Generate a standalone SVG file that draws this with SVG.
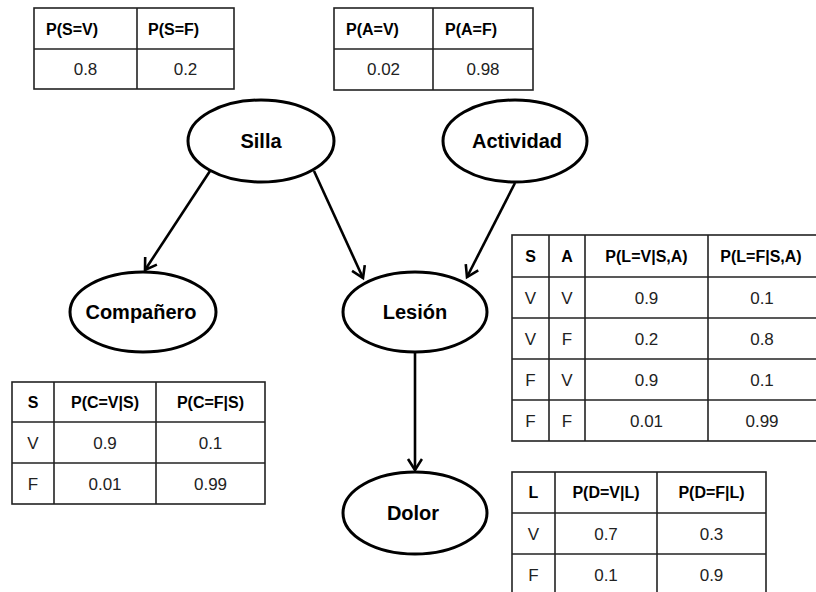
<svg xmlns="http://www.w3.org/2000/svg" width="816" height="592" viewBox="0 0 816 592">
  <style>
    .node ellipse { fill: #fff; stroke: #000; stroke-width: 3; }
    .node text { font-family: "Liberation Sans", Arial, sans-serif; font-weight: bold; font-size: 20px; text-anchor: middle; fill: #000; }
    .cpt rect { fill: #fff; stroke: #222; stroke-width: 1.6; }
    .cpt line { stroke: #222; stroke-width: 1.6; }
    .cpt text { font-family: "Liberation Sans", Arial, sans-serif; font-size: 17px; fill: #222; text-anchor: middle; }
    .cpt text.h { font-weight: bold; font-size: 16px; fill: #000; }
    .cpt text.l { text-anchor: start; }
    .edges line { stroke: #000; stroke-width: 2.6; fill: none; marker-end: url(#arrow); }
  </style>
  <defs>
    <marker id="arrow" markerUnits="userSpaceOnUse" markerWidth="20" markerHeight="20" refX="13" refY="8" orient="auto">
      <path d="M2,1 L13,8 L2,15" fill="none" stroke="#000" stroke-width="2.6" stroke-linejoin="miter"/>
    </marker>
  </defs>
  <rect width="816" height="592" fill="#fff"/>

  <!-- P(S) -->
  <g id="cpt-silla" class="cpt">
    <rect x="34" y="8" width="200" height="81"/>
    <line x1="34" y1="49" x2="234" y2="49"/>
    <line x1="137" y1="8" x2="137" y2="89"/>
    <text class="h l" x="46" y="35">P(S=V)</text>
    <text class="h l" x="148" y="35">P(S=F)</text>
    <text x="85.5" y="75">0.8</text>
    <text x="185.5" y="75">0.2</text>
  </g>

  <!-- P(A) -->
  <g id="cpt-actividad" class="cpt">
    <rect x="334" y="8" width="199" height="82"/>
    <line x1="334" y1="49" x2="533" y2="49"/>
    <line x1="433" y1="8" x2="433" y2="90"/>
    <text class="h l" x="346" y="35">P(A=V)</text>
    <text class="h l" x="445" y="35">P(A=F)</text>
    <text x="383.5" y="75">0.02</text>
    <text x="483" y="75">0.98</text>
  </g>

  <!-- P(L | S, A) -->
  <g id="cpt-lesion" class="cpt">
    <rect x="512" y="235" width="310" height="206"/>
    <line x1="512" y1="277" x2="822" y2="277"/>
    <line x1="512" y1="318" x2="822" y2="318"/>
    <line x1="512" y1="359" x2="822" y2="359"/>
    <line x1="512" y1="400" x2="822" y2="400"/>
    <line x1="549" y1="235" x2="549" y2="441"/>
    <line x1="585" y1="235" x2="585" y2="441"/>
    <line x1="708" y1="235" x2="708" y2="441"/>
    <text class="h" x="530.5" y="262">S</text>
    <text class="h" x="567" y="262">A</text>
    <text class="h" x="646.5" y="262">P(L=V|S,A)</text>
    <text class="h" x="761" y="262">P(L=F|S,A)</text>
    <text x="530.5" y="304">V</text><text x="567" y="304">V</text><text x="646.5" y="304">0.9</text><text x="762" y="304">0.1</text>
    <text x="530.5" y="345">V</text><text x="567" y="345">F</text><text x="646.5" y="345">0.2</text><text x="762" y="345">0.8</text>
    <text x="530.5" y="386">F</text><text x="567" y="386">V</text><text x="646.5" y="386">0.9</text><text x="762" y="386">0.1</text>
    <text x="530.5" y="427">F</text><text x="567" y="427">F</text><text x="646.5" y="427">0.01</text><text x="762" y="427">0.99</text>
  </g>

  <!-- P(C | S) -->
  <g id="cpt-companero" class="cpt">
    <rect x="12" y="382" width="253" height="122"/>
    <line x1="12" y1="422" x2="265" y2="422"/>
    <line x1="12" y1="463" x2="265" y2="463"/>
    <line x1="54" y1="382" x2="54" y2="504"/>
    <line x1="156" y1="382" x2="156" y2="504"/>
    <text class="h" x="33" y="408">S</text>
    <text class="h" x="105" y="408">P(C=V|S)</text>
    <text class="h" x="210.5" y="408">P(C=F|S)</text>
    <text x="33" y="449">V</text><text x="105" y="449">0.9</text><text x="210.5" y="449">0.1</text>
    <text x="33" y="490">F</text><text x="105" y="490">0.01</text><text x="210.5" y="490">0.99</text>
  </g>

  <!-- P(D | L) -->
  <g id="cpt-dolor" class="cpt">
    <rect x="512" y="472" width="254" height="126"/>
    <line x1="512" y1="513" x2="766" y2="513"/>
    <line x1="512" y1="554" x2="766" y2="554"/>
    <line x1="555" y1="472" x2="555" y2="598"/>
    <line x1="657" y1="472" x2="657" y2="598"/>
    <text class="h" x="533.5" y="498">L</text>
    <text class="h" x="606" y="498">P(D=V|L)</text>
    <text class="h" x="711.5" y="498">P(D=F|L)</text>
    <text x="533.5" y="540">V</text><text x="606" y="540">0.7</text><text x="711.5" y="540">0.3</text>
    <text x="533.5" y="581">F</text><text x="606" y="581">0.1</text><text x="711.5" y="581">0.9</text>
  </g>

  <!-- edges of the network -->
  <g id="edges" class="edges">
    <line x1="210" y1="171" x2="145" y2="270"/>
    <line x1="314" y1="171" x2="363" y2="278"/>
    <line x1="515" y1="183" x2="467" y2="277"/>
    <line x1="415" y1="352" x2="415" y2="470"/>
  </g>

  <!-- nodes -->
  <g id="silla" class="node">
    <ellipse cx="261" cy="141" rx="73" ry="41"/>
    <text x="261" y="148">Silla</text>
  </g>
  <g id="actividad" class="node">
    <ellipse cx="515" cy="141" rx="72" ry="41"/>
    <text x="517" y="148">Actividad</text>
  </g>
  <g id="companero" class="node">
    <ellipse cx="143" cy="312" rx="73" ry="40"/>
    <text x="141" y="319">Compañero</text>
  </g>
  <g id="lesion" class="node">
    <ellipse cx="415" cy="312" rx="72" ry="40"/>
    <text x="415" y="319">Lesión</text>
  </g>
  <g id="dolor" class="node">
    <ellipse cx="415" cy="513" rx="72" ry="41"/>
    <text x="413" y="520">Dolor</text>
  </g>
</svg>
